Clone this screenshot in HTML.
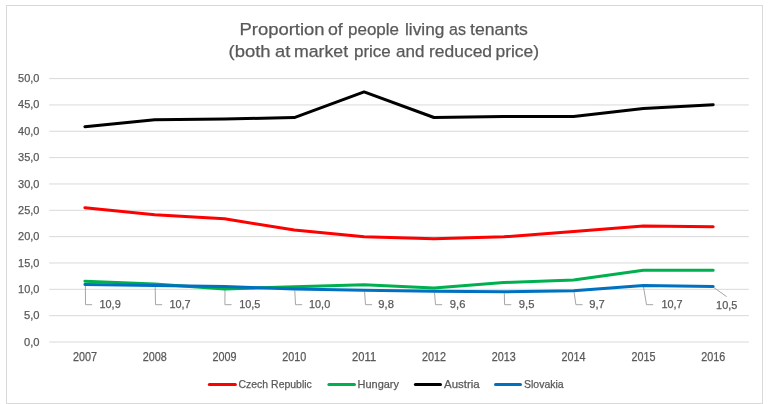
<!DOCTYPE html><html><head><meta charset="utf-8"><style>html,body{margin:0;padding:0;background:#fff;width:769px;height:404px;overflow:hidden}svg{display:block;filter:blur(0.35px)}text{font-family:"Liberation Sans",sans-serif;fill:#595959;stroke:#595959;stroke-width:0.25px}</style></head><body>
<svg width="769" height="404" viewBox="0 0 769 404">
<rect x="6.5" y="5.5" width="756" height="398" fill="#fff" stroke="#d9d9d9" stroke-width="1"/>
<line x1="49.2" x2="748.8" y1="78.60" y2="78.60" stroke="#d9d9d9" stroke-width="1"/>
<line x1="49.2" x2="748.8" y1="104.94" y2="104.94" stroke="#d9d9d9" stroke-width="1"/>
<line x1="49.2" x2="748.8" y1="131.28" y2="131.28" stroke="#d9d9d9" stroke-width="1"/>
<line x1="49.2" x2="748.8" y1="157.62" y2="157.62" stroke="#d9d9d9" stroke-width="1"/>
<line x1="49.2" x2="748.8" y1="183.96" y2="183.96" stroke="#d9d9d9" stroke-width="1"/>
<line x1="49.2" x2="748.8" y1="210.30" y2="210.30" stroke="#d9d9d9" stroke-width="1"/>
<line x1="49.2" x2="748.8" y1="236.64" y2="236.64" stroke="#d9d9d9" stroke-width="1"/>
<line x1="49.2" x2="748.8" y1="262.98" y2="262.98" stroke="#d9d9d9" stroke-width="1"/>
<line x1="49.2" x2="748.8" y1="289.32" y2="289.32" stroke="#d9d9d9" stroke-width="1"/>
<line x1="49.2" x2="748.8" y1="315.66" y2="315.66" stroke="#d9d9d9" stroke-width="1"/>
<line x1="49.2" x2="748.8" y1="342.00" y2="342.00" stroke="#d9d9d9" stroke-width="1"/>
<text x="39.5" y="82.1" font-size="11.8" text-anchor="end" textLength="21.4" lengthAdjust="spacingAndGlyphs">50,0</text>
<text x="39.5" y="108.4" font-size="11.8" text-anchor="end" textLength="21.4" lengthAdjust="spacingAndGlyphs">45,0</text>
<text x="39.5" y="134.8" font-size="11.8" text-anchor="end" textLength="21.4" lengthAdjust="spacingAndGlyphs">40,0</text>
<text x="39.5" y="161.1" font-size="11.8" text-anchor="end" textLength="21.4" lengthAdjust="spacingAndGlyphs">35,0</text>
<text x="39.5" y="187.5" font-size="11.8" text-anchor="end" textLength="21.4" lengthAdjust="spacingAndGlyphs">30,0</text>
<text x="39.5" y="213.8" font-size="11.8" text-anchor="end" textLength="21.4" lengthAdjust="spacingAndGlyphs">25,0</text>
<text x="39.5" y="240.1" font-size="11.8" text-anchor="end" textLength="21.4" lengthAdjust="spacingAndGlyphs">20,0</text>
<text x="39.5" y="266.5" font-size="11.8" text-anchor="end" textLength="21.4" lengthAdjust="spacingAndGlyphs">15,0</text>
<text x="39.5" y="292.8" font-size="11.8" text-anchor="end" textLength="21.4" lengthAdjust="spacingAndGlyphs">10,0</text>
<text x="39.5" y="319.2" font-size="11.8" text-anchor="end" textLength="15.6" lengthAdjust="spacingAndGlyphs">5,0</text>
<text x="39.5" y="345.5" font-size="11.8" text-anchor="end" textLength="15.6" lengthAdjust="spacingAndGlyphs">0,0</text>
<text x="84.9" y="360.6" font-size="11.9" text-anchor="middle" textLength="24" lengthAdjust="spacingAndGlyphs">2007</text>
<text x="154.7" y="360.6" font-size="11.9" text-anchor="middle" textLength="24" lengthAdjust="spacingAndGlyphs">2008</text>
<text x="224.5" y="360.6" font-size="11.9" text-anchor="middle" textLength="24" lengthAdjust="spacingAndGlyphs">2009</text>
<text x="294.3" y="360.6" font-size="11.9" text-anchor="middle" textLength="24" lengthAdjust="spacingAndGlyphs">2010</text>
<text x="364.1" y="360.6" font-size="11.9" text-anchor="middle" textLength="24" lengthAdjust="spacingAndGlyphs">2011</text>
<text x="434.0" y="360.6" font-size="11.9" text-anchor="middle" textLength="24" lengthAdjust="spacingAndGlyphs">2012</text>
<text x="503.8" y="360.6" font-size="11.9" text-anchor="middle" textLength="24" lengthAdjust="spacingAndGlyphs">2013</text>
<text x="573.6" y="360.6" font-size="11.9" text-anchor="middle" textLength="24" lengthAdjust="spacingAndGlyphs">2014</text>
<text x="643.4" y="360.6" font-size="11.9" text-anchor="middle" textLength="24" lengthAdjust="spacingAndGlyphs">2015</text>
<text x="713.2" y="360.6" font-size="11.9" text-anchor="middle" textLength="24" lengthAdjust="spacingAndGlyphs">2016</text>
<text x="239.50" y="34.8" font-size="17.4" textLength="85.11" lengthAdjust="spacingAndGlyphs">Proportion</text>
<text x="328.00" y="34.8" font-size="17.4" textLength="14.80" lengthAdjust="spacingAndGlyphs">of</text>
<text x="348.00" y="34.8" font-size="17.4" textLength="51.01" lengthAdjust="spacingAndGlyphs">people</text>
<text x="405.00" y="34.8" font-size="17.4" textLength="39.40" lengthAdjust="spacingAndGlyphs">living</text>
<text x="449.00" y="34.8" font-size="17.4" textLength="16.87" lengthAdjust="spacingAndGlyphs">as</text>
<text x="470.00" y="34.8" font-size="17.4" textLength="57.86" lengthAdjust="spacingAndGlyphs">tenants</text>
<text x="228.50" y="57.2" font-size="17.4" textLength="42.04" lengthAdjust="spacingAndGlyphs">(both</text>
<text x="275.00" y="57.2" font-size="17.4" textLength="15.26" lengthAdjust="spacingAndGlyphs">at</text>
<text x="294.00" y="57.2" font-size="17.4" textLength="54.14" lengthAdjust="spacingAndGlyphs">market</text>
<text x="354.00" y="57.2" font-size="17.4" textLength="36.79" lengthAdjust="spacingAndGlyphs">price</text>
<text x="396.00" y="57.2" font-size="17.4" textLength="28.40" lengthAdjust="spacingAndGlyphs">and</text>
<text x="429.00" y="57.2" font-size="17.4" textLength="63.08" lengthAdjust="spacingAndGlyphs">reduced</text>
<text x="495.50" y="57.2" font-size="17.4" textLength="43.60" lengthAdjust="spacingAndGlyphs">price)</text>
<polyline points="85.4,285.9 85.5,304.7 92.2,304.7" fill="none" stroke="#a6a6a6" stroke-width="1"/>
<text x="99.5" y="307.9" font-size="11.4" textLength="21.2" lengthAdjust="spacingAndGlyphs">10,9</text>
<polyline points="155.2,286.9 155.5,304.7 162.2,304.7" fill="none" stroke="#a6a6a6" stroke-width="1"/>
<text x="169.4" y="307.9" font-size="11.4" textLength="21.2" lengthAdjust="spacingAndGlyphs">10,7</text>
<polyline points="225.0,288.0 224.9,304.7 231.6,304.7" fill="none" stroke="#a6a6a6" stroke-width="1"/>
<text x="239.2" y="307.9" font-size="11.4" textLength="21.2" lengthAdjust="spacingAndGlyphs">10,5</text>
<polyline points="294.8,290.6 295.5,304.7 302.2,304.7" fill="none" stroke="#a6a6a6" stroke-width="1"/>
<text x="309.0" y="307.9" font-size="11.4" textLength="21.2" lengthAdjust="spacingAndGlyphs">10,0</text>
<polyline points="364.6,291.7 365.5,304.7 372.2,304.7" fill="none" stroke="#a6a6a6" stroke-width="1"/>
<text x="378.3" y="307.9" font-size="11.4" textLength="15.6" lengthAdjust="spacingAndGlyphs">9,8</text>
<polyline points="434.5,292.7 435.5,304.7 442.2,304.7" fill="none" stroke="#a6a6a6" stroke-width="1"/>
<text x="449.8" y="307.9" font-size="11.4" textLength="15.6" lengthAdjust="spacingAndGlyphs">9,6</text>
<polyline points="504.3,293.3 504.6,304.7 511.3,304.7" fill="none" stroke="#a6a6a6" stroke-width="1"/>
<text x="518.8" y="307.9" font-size="11.4" textLength="15.6" lengthAdjust="spacingAndGlyphs">9,5</text>
<polyline points="574.1,292.2 575.9,304.7 582.6,304.7" fill="none" stroke="#a6a6a6" stroke-width="1"/>
<text x="589.2" y="307.9" font-size="11.4" textLength="15.6" lengthAdjust="spacingAndGlyphs">9,7</text>
<polyline points="643.5,286.9 646.5,304.7 653.2,304.7" fill="none" stroke="#a6a6a6" stroke-width="1"/>
<text x="661.4" y="307.9" font-size="11.4" textLength="21.2" lengthAdjust="spacingAndGlyphs">10,7</text>
<line x1="713.7" y1="287.5" x2="726.6" y2="296.6" stroke="#a6a6a6" stroke-width="1"/>
<text x="716.1" y="308.5" font-size="11.4" textLength="21.2" lengthAdjust="spacingAndGlyphs">10,5</text>
<polyline points="84.9,207.7 154.7,214.7 224.5,218.7 294.3,230.1 364.1,236.8 434.0,238.8 503.8,236.8 573.6,231.6 643.4,225.9 713.2,226.8" fill="none" stroke="#ff0000" stroke-width="3" stroke-linejoin="round" stroke-linecap="round"/>
<polyline points="84.9,281.3 154.7,284.0 224.5,289.0 294.3,286.7 364.1,284.8 434.0,288.1 503.8,282.6 573.6,280.1 643.4,270.2 713.2,270.2" fill="none" stroke="#00b050" stroke-width="3" stroke-linejoin="round" stroke-linecap="round"/>
<polyline points="84.9,126.7 154.7,119.8 224.5,118.9 294.3,117.6 364.1,91.9 434.0,117.5 503.8,116.5 573.6,116.5 643.4,108.6 713.2,104.8" fill="none" stroke="#000000" stroke-width="3" stroke-linejoin="round" stroke-linecap="round"/>
<polyline points="84.9,284.4 154.7,285.4 224.5,286.5 294.3,289.1 364.1,290.2 434.0,291.2 503.8,291.8 573.6,290.7 643.4,285.4 713.2,286.5" fill="none" stroke="#0070c0" stroke-width="3" stroke-linejoin="round" stroke-linecap="round"/>
<line x1="209.3" x2="235.4" y1="384.4" y2="384.4" stroke="#ff0000" stroke-width="3" stroke-linecap="round"/>
<text x="238.5" y="387.8" font-size="11.3" textLength="73.3" lengthAdjust="spacingAndGlyphs">Czech Republic</text>
<line x1="328.9" x2="354.5" y1="384.4" y2="384.4" stroke="#00b050" stroke-width="3" stroke-linecap="round"/>
<text x="357.5" y="387.8" font-size="11.3" textLength="41.5" lengthAdjust="spacingAndGlyphs">Hungary</text>
<line x1="415.4" x2="440.5" y1="384.4" y2="384.4" stroke="#000000" stroke-width="3" stroke-linecap="round"/>
<text x="444" y="387.8" font-size="11.3" textLength="35.7" lengthAdjust="spacingAndGlyphs">Austria</text>
<line x1="495.5" x2="520.5" y1="384.4" y2="384.4" stroke="#0070c0" stroke-width="3" stroke-linecap="round"/>
<text x="524" y="387.8" font-size="11.3" textLength="39.7" lengthAdjust="spacingAndGlyphs">Slovakia</text>
</svg></body></html>
